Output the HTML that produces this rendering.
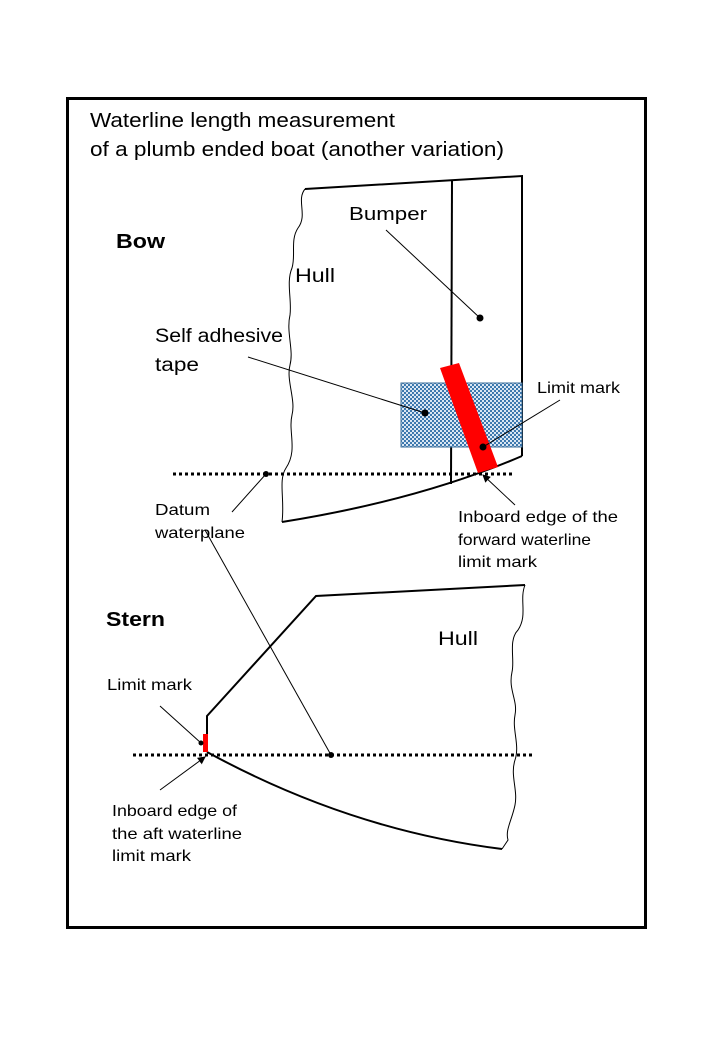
<!DOCTYPE html>
<html><head><meta charset="utf-8"><style>
html,body{margin:0;padding:0;background:#fff;}
svg{display:block;font-family:"Liberation Sans",sans-serif;}
</style></head><body>
<svg width="720" height="1040" viewBox="0 0 720 1040" xmlns="http://www.w3.org/2000/svg">
<defs>
<pattern id="dots" width="4" height="4" patternUnits="userSpaceOnUse">
<rect width="4" height="4" fill="#dfeaf5"/>
<circle cx="1" cy="1" r="1.1" fill="#2f6fa8"/>
<circle cx="3" cy="3" r="1.1" fill="#2f6fa8"/>
</pattern>
<marker id="ah" markerWidth="8" markerHeight="8" refX="7" refY="4" orient="auto" markerUnits="userSpaceOnUse"><path d="M0,0 L8,4 L0,8 z" fill="#000"/></marker>
</defs>
<rect x="67.5" y="98.5" width="578" height="829" fill="none" stroke="#000" stroke-width="3"/>
<text x="90" y="127" font-size="20" textLength="305" lengthAdjust="spacingAndGlyphs">Waterline length measurement</text>
<text x="90" y="156" font-size="20" textLength="414" lengthAdjust="spacingAndGlyphs">of a plumb ended boat (another variation)</text>

<!-- Bow -->
<text x="116" y="248" font-size="20" font-weight="bold" textLength="49" lengthAdjust="spacingAndGlyphs">Bow</text>
<path d="M305,189 C296,200 308,215 298,228 C290,240 296,255 292,268 C286,282 292,300 290,315 C286,332 294,350 290,365 C286,380 296,400 292,415 C288,432 298,450 286,468 C278,480 285,500 282,522" fill="none" stroke="#000" stroke-width="1"/>
<path d="M305,189 L522,176 L522,456" fill="none" stroke="#000" stroke-width="2"/>
<path d="M282,522 Q420,500 522,456" fill="none" stroke="#000" stroke-width="2"/>
<line x1="452" y1="180" x2="451" y2="484" stroke="#000" stroke-width="2"/>
<rect x="401" y="383" width="121" height="64" fill="url(#dots)" stroke="#3b6e9a" stroke-width="1"/>
<polygon points="440,368 459,363 498,467 478,473" fill="#ff0000"/>
<line x1="173" y1="474" x2="515" y2="474" stroke="#000" stroke-width="3" stroke-dasharray="3,3"/>
<text x="349" y="220" font-size="18" textLength="78" lengthAdjust="spacingAndGlyphs">Bumper</text>
<text x="295" y="282" font-size="19" textLength="40" lengthAdjust="spacingAndGlyphs">Hull</text>
<text x="155" y="342" font-size="19" textLength="128" lengthAdjust="spacingAndGlyphs">Self adhesive</text>
<text x="155" y="371" font-size="19" textLength="44" lengthAdjust="spacingAndGlyphs">tape</text>
<text x="537" y="393" font-size="16" textLength="83" lengthAdjust="spacingAndGlyphs">Limit mark</text>
<text x="155" y="515" font-size="16" textLength="55" lengthAdjust="spacingAndGlyphs">Datum</text>
<text x="155" y="538" font-size="16" textLength="90" lengthAdjust="spacingAndGlyphs">waterplane</text>
<text x="458" y="522" font-size="16" textLength="160" lengthAdjust="spacingAndGlyphs">Inboard edge of the</text>
<text x="458" y="545" font-size="16" textLength="133" lengthAdjust="spacingAndGlyphs">forward waterline</text>
<text x="458" y="567" font-size="16" textLength="79" lengthAdjust="spacingAndGlyphs">limit mark</text>
<line x1="386" y1="230" x2="480" y2="318" stroke="#000" stroke-width="1"/>
<circle cx="480" cy="318" r="3.5"/>
<line x1="248" y1="357" x2="425" y2="413" stroke="#000" stroke-width="1"/>
<circle cx="425" cy="413" r="3.5"/>
<line x1="560" y1="400" x2="483" y2="447" stroke="#000" stroke-width="1"/>
<circle cx="483" cy="447" r="3.5"/>
<line x1="515" y1="505" x2="483" y2="475" stroke="#000" stroke-width="1" marker-end="url(#ah)"/>
<line x1="232" y1="512" x2="266" y2="474" stroke="#000" stroke-width="1"/>
<circle cx="266" cy="474" r="3"/>
<line x1="205" y1="530" x2="331" y2="755" stroke="#000" stroke-width="1"/>
<circle cx="331" cy="755" r="3"/>

<!-- Stern -->
<text x="106" y="626" font-size="20" font-weight="bold" textLength="59" lengthAdjust="spacingAndGlyphs">Stern</text>
<text x="438" y="645" font-size="19" textLength="40" lengthAdjust="spacingAndGlyphs">Hull</text>
<text x="107" y="690" font-size="16" textLength="85" lengthAdjust="spacingAndGlyphs">Limit mark</text>
<text x="112" y="816" font-size="16" textLength="125" lengthAdjust="spacingAndGlyphs">Inboard edge of</text>
<text x="112" y="839" font-size="16" textLength="130" lengthAdjust="spacingAndGlyphs">the aft waterline</text>
<text x="112" y="861" font-size="16" textLength="79" lengthAdjust="spacingAndGlyphs">limit mark</text>
<path d="M525,585 C519,600 528,615 518,630 C508,640 515,660 512,672 C508,690 518,700 515,715 C512,730 520,745 515,760 C510,775 518,790 515,805 C512,820 505,830 508,840 L502,849" fill="none" stroke="#000" stroke-width="1"/>
<path d="M525,585 L316,596 L207,716 L207,752" fill="none" stroke="#000" stroke-width="2"/>
<path d="M207,752 Q350,830 502,849" fill="none" stroke="#000" stroke-width="2"/>
<rect x="203" y="734" width="5" height="18" fill="#ff0000"/>
<line x1="133" y1="755" x2="535" y2="755" stroke="#000" stroke-width="3" stroke-dasharray="3,3"/>
<line x1="160" y1="706" x2="201" y2="743" stroke="#000" stroke-width="1"/>
<circle cx="201" cy="743" r="2.5"/>
<line x1="160" y1="790" x2="205" y2="757" stroke="#000" stroke-width="1" marker-end="url(#ah)"/>
</svg>
</body></html>
